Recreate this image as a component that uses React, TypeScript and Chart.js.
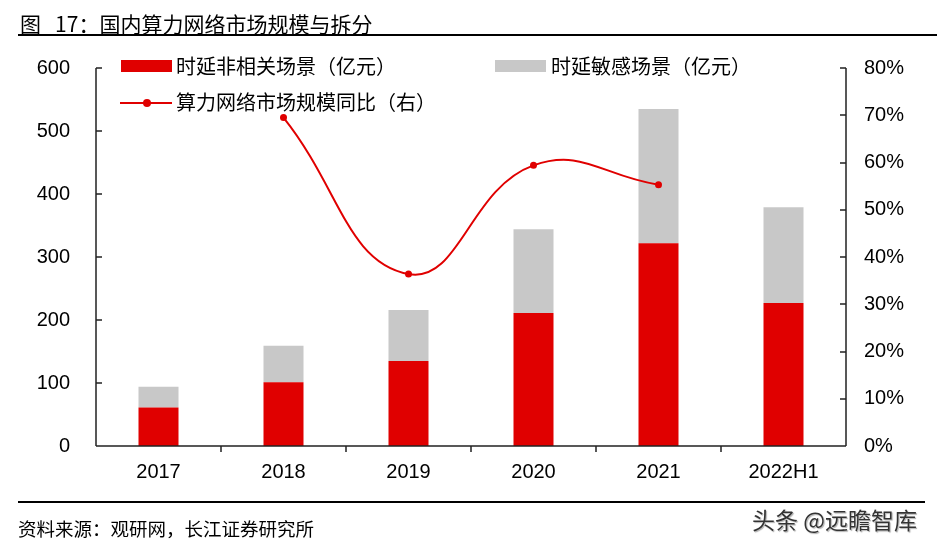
import React, { useEffect, useRef } from "react";
import { Chart, registerables } from "chart.js";

Chart.register(...registerables);

const categories = ["2017", "2018", "2019", "2020", "2021", "2022H1"];
const insensitive = [61, 101, 135, 211, 322, 227];
const sensitive = [33, 58, 81, 133, 213, 152];
const growth = [null, 69.5, 36.4, 59.4, 55.3, null];
const leftTicks = [0, 100, 200, 300, 400, 500, 600];
const rightTicks = [0, 10, 20, 30, 40, 50, 60, 70, 80];

const RED = "#E00000";
const GREY = "#C8C8C8";
const CJK = '"Noto Sans CJK SC", "Liberation Sans", sans-serif';
const NUM = '"Liberation Sans", Arial, sans-serif';

const axisPlugin = {
  id: "axisPlugin",
  afterDraw(chart: any) {
    const { ctx, chartArea } = chart;
    const { left, right, top, bottom } = chartArea;
    const y = chart.scales.y;
    const y1 = chart.scales.y1;
    const x = chart.scales.x;
    ctx.save();
    ctx.strokeStyle = "#222";
    ctx.lineWidth = 1.5;
    ctx.beginPath();
    ctx.moveTo(left, top);
    ctx.lineTo(left, bottom);
    ctx.moveTo(right, top);
    ctx.lineTo(right, bottom);
    ctx.moveTo(left, bottom);
    ctx.lineTo(right, bottom);
    leftTicks.forEach((v) => {
      const py = Math.round(y.getPixelForValue(v));
      ctx.moveTo(left, py);
      ctx.lineTo(left + 6, py);
    });
    rightTicks.forEach((v) => {
      const py = Math.round(y1.getPixelForValue(v));
      ctx.moveTo(right, py);
      ctx.lineTo(right - 6, py);
    });
    const n = categories.length;
    for (let i = 1; i < n; i++) {
      const px = (x.getPixelForValue(i - 1) + x.getPixelForValue(i)) / 2;
      ctx.moveTo(px, bottom);
      ctx.lineTo(px, bottom + 6);
    }
    ctx.stroke();
    ctx.restore();
  },
};

export default function App() {
  const ref = useRef<HTMLCanvasElement>(null);
  useEffect(() => {
    const chart = new Chart(ref.current as HTMLCanvasElement, {
      type: "bar",
      data: {
        labels: categories,
        datasets: [
          {
            type: "line",
            label: "算力网络市场规模同比（右）",
            data: growth as any,
            yAxisID: "y1",
            borderColor: RED,
            backgroundColor: RED,
            borderWidth: 2,
            pointRadius: 3.5,
            pointBackgroundColor: RED,
            pointBorderWidth: 0,
            tension: 0.45,
            order: 0,
          } as any,
          {
            label: "时延非相关场景（亿元）",
            data: insensitive,
            backgroundColor: RED,
            yAxisID: "y",
            barPercentage: 0.32,
            categoryPercentage: 1,
            order: 1,
          },
          {
            label: "时延敏感场景（亿元）",
            data: sensitive,
            backgroundColor: GREY,
            yAxisID: "y",
            barPercentage: 0.32,
            categoryPercentage: 1,
            order: 1,
          },
        ],
      },
      options: {
        responsive: false,
        animation: false,
        devicePixelRatio: 1,
        layout: { padding: { top: 68, left: 0, right: 0, bottom: 0 } },
        plugins: { legend: { display: false }, tooltip: { enabled: false } },
        scales: {
          x: {
            stacked: true,
            offset: true,
            grid: { display: false, drawTicks: false },
            border: { display: false },
            ticks: { color: "#000", font: { family: NUM, size: 20 }, padding: 14 },
            afterFit: (s: any) => {
              s.height = 101;
            },
          },
          y: {
            position: "left",
            stacked: true,
            min: 0,
            max: 600,
            grid: { display: false, drawTicks: false },
            border: { display: false },
            ticks: { stepSize: 100, color: "#000", font: { family: NUM, size: 20 }, padding: 26 },
            afterFit: (s: any) => {
              s.width = 96;
            },
          },
          y1: {
            position: "right",
            min: 0,
            max: 80,
            grid: { display: false, drawTicks: false },
            border: { display: false },
            ticks: {
              stepSize: 10,
              color: "#000",
              font: { family: NUM, size: 20 },
              padding: 18,
              callback: (v: any) => v + "%",
            },
            afterFit: (s: any) => {
              s.width = 91;
            },
          },
        },
      },
      plugins: [axisPlugin],
    });
    return () => chart.destroy();
  }, []);

  const legendText: React.CSSProperties = {
    position: "absolute",
    fontFamily: CJK,
    fontSize: 20,
    color: "#000",
    lineHeight: "20px",
    whiteSpace: "nowrap",
  };

  return (
    <div style={{ position: "absolute", left: 0, top: 0, width: 937, height: 547, background: "#fff", overflow: "hidden" }}>
      <style>{".t, .t * { text-spacing-trim: space-all; font-feature-settings: normal; }"}</style>
      <canvas ref={ref} width={937} height={547} style={{ position: "absolute", left: 0, top: 0 }} />
      <div className="t" style={{ position: "absolute", left: 20, top: 11, fontFamily: CJK, fontSize: 21, lineHeight: "24px", whiteSpace: "pre", color: "#000" }}>
        {"图   17：国内算力网络市场规模与拆分"}
      </div>
      <div style={{ position: "absolute", left: 18, top: 34, width: 919, height: 2, background: "#000" }} />
      <div style={{ position: "absolute", left: 121, top: 60, width: 51, height: 12, background: RED }} />
      <div className="t" style={{ ...legendText, left: 176, top: 56 }}>时延非相关场景（亿元）</div>
      <div style={{ position: "absolute", left: 495, top: 60, width: 51, height: 12, background: GREY }} />
      <div className="t" style={{ ...legendText, left: 551, top: 56 }}>时延敏感场景（亿元）</div>
      <div style={{ position: "absolute", left: 120, top: 102, width: 52, height: 2, background: RED }} />
      <div style={{ position: "absolute", left: 143, top: 99, width: 8, height: 8, borderRadius: 4, background: RED }} />
      <div className="t" style={{ ...legendText, left: 176, top: 92 }}>算力网络市场规模同比（右）</div>
      <div style={{ position: "absolute", left: 18, top: 501, width: 907, height: 2, background: "#000" }} />
      <div className="t" style={{ position: "absolute", left: 18, top: 518, fontFamily: CJK, fontSize: 18.5, lineHeight: "20px", whiteSpace: "nowrap", color: "#000" }}>
        资料来源：观研网，长江证券研究所
      </div>
      <div
        className="t"
        style={{
          position: "absolute",
          left: 752,
          top: 506,
          fontFamily: CJK,
          fontSize: 23,
          lineHeight: "26px",
          whiteSpace: "pre",
          color: "#333",
          textShadow: "0 0 2px #fff, 1px 1px 1px #999",
        }}
      >
        {"头条 @远瞻智库"}
      </div>
    </div>
  );
}
